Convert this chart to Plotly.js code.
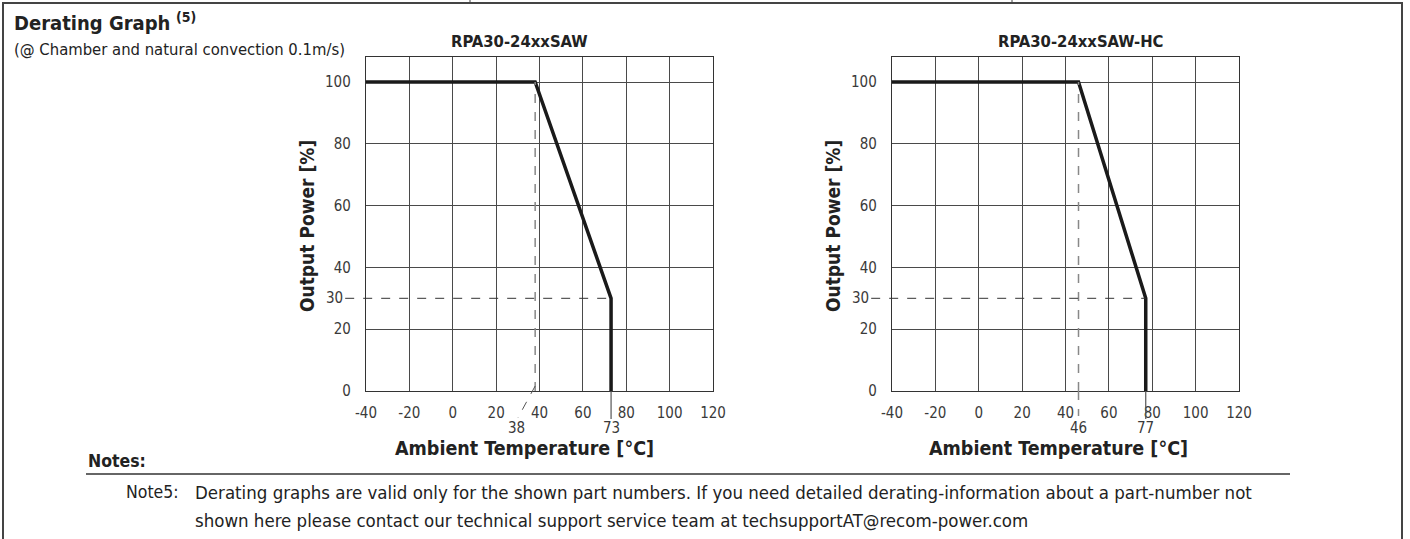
<!DOCTYPE html>
<html>
<head>
<meta charset="utf-8">
<script src="https://cdn.plot.ly/plotly-3.0.1.min.js"></script>
<style>
html,body{margin:0;padding:0;background:#fff;}
#chart{width:1410px;height:539px;}
</style>
</head>
<body>
<div id="chart"></div>
<script>
// ---- data ----
const xTicks = [-40, -20, 0, 20, 40, 60, 80, 100, 120];
const yTicks = [0, 20, 40, 60, 80, 100];
const markerLevel = 30;

const tempA = [-40, 38, 73, 73];
const powerA = [100, 100, 30, 0];
const kneeA = 38, endA = 73;
const nameA = "RPA30-24xxSAW";

const tempB = [-40, 46, 77, 77];
const powerB = [100, 100, 30, 0];
const kneeB = 46, endB = 77;
const nameB = "RPA30-24xxSAW-HC";

const heading = "Derating Graph";
const subHeading = "(@ Chamber and natural convection 0.1m/s)";
const xTitle = "Ambient Temperature [°C]";
const yTitle = "Output Power [%]";
const noteLine1 = "Derating graphs are valid only for the shown part numbers. If you need detailed derating-information about a part-number not";
const noteLine2 = "shown here please contact our technical support service team at techsupportAT@recom-power.com";

// ---- layout helpers ----
const W = 1410, H = 539;
const px = x => x / W;
const py = y => 1 - y / H;
const FONT = "'DejaVu Sans Condensed', 'Liberation Sans Narrow', Roboto, sans-serif";
const TXT = "#222";
const TICK = "#3a3a3a";

function axX(domain) {
  return {
    domain: domain, range: [-40, 120], tickvals: xTicks, ticktext: xTicks.map(String),
    showgrid: true, gridcolor: "#4a4a4a", gridwidth: 1, zeroline: false,
    showline: true, mirror: true, linecolor: "#333", linewidth: 1.2,
    ticks: "", ticklabelstandoff: 8, tickfont: {family: FONT, size: 15, color: TICK},
    fixedrange: true
  };
}
function axY(domain, anchor) {
  return {
    domain: domain, range: [0, 108.1], tickvals: yTicks, ticktext: yTicks.map(String),
    showgrid: true, gridcolor: "#4a4a4a", gridwidth: 1, zeroline: false,
    showline: true, mirror: true, linecolor: "#333", linewidth: 1.2,
    ticks: "", ticklabelstandoff: 11, tickfont: {family: FONT, size: 15, color: TICK},
    anchor: anchor, fixedrange: true
  };
}

const yDom = [py(391), py(57)];
const layout = {
  width: W, height: H,
  margin: {l: 0, r: 0, t: 0, b: 0},
  paper_bgcolor: "#fff", plot_bgcolor: "#fff",
  showlegend: false,
  font: {family: FONT, color: TXT},
  xaxis: Object.assign(axX([px(366), px(713)]), {anchor: "y"}),
  yaxis: axY(yDom, "x"),
  xaxis2: Object.assign(axX([px(892), px(1239)]), {anchor: "y2"}),
  yaxis2: axY(yDom, "x2"),
  shapes: [],
  annotations: []
};

// frame
const frameLine = {color: "#444", width: 2};
layout.shapes.push({type: "rect", xref: "paper", yref: "paper", x0: px(3), x1: px(1402), y0: py(545), y1: py(3), line: frameLine, layer: "below"});
[470, 1012].forEach(x => layout.shapes.push({type: "line", xref: "paper", yref: "paper", x0: px(x), x1: px(x), y0: py(0), y1: py(3), line: {color: "#444", width: 1}}));
// notes rule
layout.shapes.push({type: "line", xref: "paper", yref: "paper", x0: px(86), x1: px(1290), y0: py(474), y1: py(474), line: {color: "#333", width: 1.5}});

function addGuides(xa, ya, knee, end, dashedBelow) {
  const dashGrey = {color: "#888", width: 1.5, dash: "dash"};
  layout.shapes.push({type: "line", xref: xa, yref: ya, x0: knee, x1: knee, y0: 0, y1: powerA[0], line: dashGrey});
  layout.shapes.push({type: "line", xref: xa + " domain", yref: ya, x0: -0.06, x1: (end - (-40)) / 160, y0: markerLevel, y1: markerLevel, line: {color: "#333", width: 1, dash: "dash"}});
  layout.shapes.push({type: "line", xref: xa, yref: "paper", x0: end, x1: end, y0: py(391), y1: py(419), line: {color: "#555", width: 1.2}});
  if (dashedBelow) {
    layout.shapes.push({type: "line", xref: xa, yref: "paper", x0: knee, x1: knee, y0: py(391), y1: py(416), line: dashGrey});
  } else {
    layout.shapes.push({type: "line", xref: xa, yref: "paper", x0: knee, x1: knee - 8, y0: py(386), y1: py(418), line: {color: "#555", width: 1, dash: "dash"}});
  }
}
addGuides("x", "y", kneeA, endA, false);
addGuides("x2", "y2", kneeB, endB, true);

function ann(o) { layout.annotations.push(Object.assign({showarrow: false, xref: "paper", yref: "paper"}, o)); }

// headings
ann({x: px(12), y: py(22), xanchor: "left", yanchor: "middle",
     text: "<b>" + heading + "</b> <b><sup style='font-size:10px'>(5)</sup></b>", font: {family: FONT, size: 20, color: TXT}});
ann({x: px(12), y: py(50), xanchor: "left", yanchor: "middle", text: subHeading, font: {family: FONT, size: 16.5, color: TXT}});

// chart titles
ann({x: px(519), y: py(41), xanchor: "center", yanchor: "middle", text: "<b>" + nameA + "</b>", font: {family: FONT, size: 16.5, color: TXT}});
ann({x: px(1080), y: py(41), xanchor: "center", yanchor: "middle", text: "<b>" + nameB + "</b>", font: {family: FONT, size: 16.5, color: TXT}});

// axis titles
[[524, 307], [1058, 833]].forEach(([xc, yc]) => {
  ann({x: px(xc), y: py(448), xanchor: "center", yanchor: "middle", text: "<b>" + xTitle + "</b>", font: {family: FONT, size: 19.5, color: TXT}});
  ann({x: px(yc), y: py(226), xanchor: "center", yanchor: "middle", textangle: -90, text: "<b>" + yTitle + "</b>", font: {family: FONT, size: 19, color: TXT}});
});

// marker-level tick label "30"
[["x", "y"], ["x2", "y2"]].forEach(([xa, ya]) => {
  layout.annotations.push({showarrow: false, xref: xa + " domain", yref: ya, x: -0.06, y: markerLevel, xanchor: "right", yanchor: "middle",
    text: String(markerLevel), font: {family: FONT, size: 15, color: TICK}});
});
// knee / end labels below axis
function tempLabel(xa, val, shift) {
  layout.annotations.push({showarrow: false, xref: xa, yref: "paper", x: val, xshift: shift, y: py(428), xanchor: "center", yanchor: "middle",
    text: String(val), font: {family: FONT, size: 15, color: TICK}});
}
tempLabel("x", kneeA, -19); tempLabel("x", endA, 0);
tempLabel("x2", kneeB, 0); tempLabel("x2", endB, 0);

// notes
ann({x: px(86), y: py(461), xanchor: "left", yanchor: "middle", text: "<b>Notes:</b>", font: {family: FONT, size: 17.5, color: TXT}});
ann({x: px(124), y: py(492), xanchor: "left", yanchor: "middle", text: "Note5:", font: {family: FONT, size: 17.5, color: TXT}});
ann({x: px(193), y: py(492), xanchor: "left", yanchor: "middle", text: noteLine1, font: {family: FONT, size: 18.5, color: TXT}});
ann({x: px(193), y: py(520), xanchor: "left", yanchor: "middle", text: noteLine2, font: {family: FONT, size: 18.5, color: TXT}});

const traces = [
  {x: tempA, y: powerA, xaxis: "x", yaxis: "y", mode: "lines", line: {color: "#1a1a1a", width: 3.5}, hoverinfo: "skip"},
  {x: tempB, y: powerB, xaxis: "x2", yaxis: "y2", mode: "lines", line: {color: "#1a1a1a", width: 3.5}, hoverinfo: "skip"}
];

Plotly.newPlot("chart", traces, layout, {staticPlot: true, displayModeBar: false});
</script>
</body>
</html>
